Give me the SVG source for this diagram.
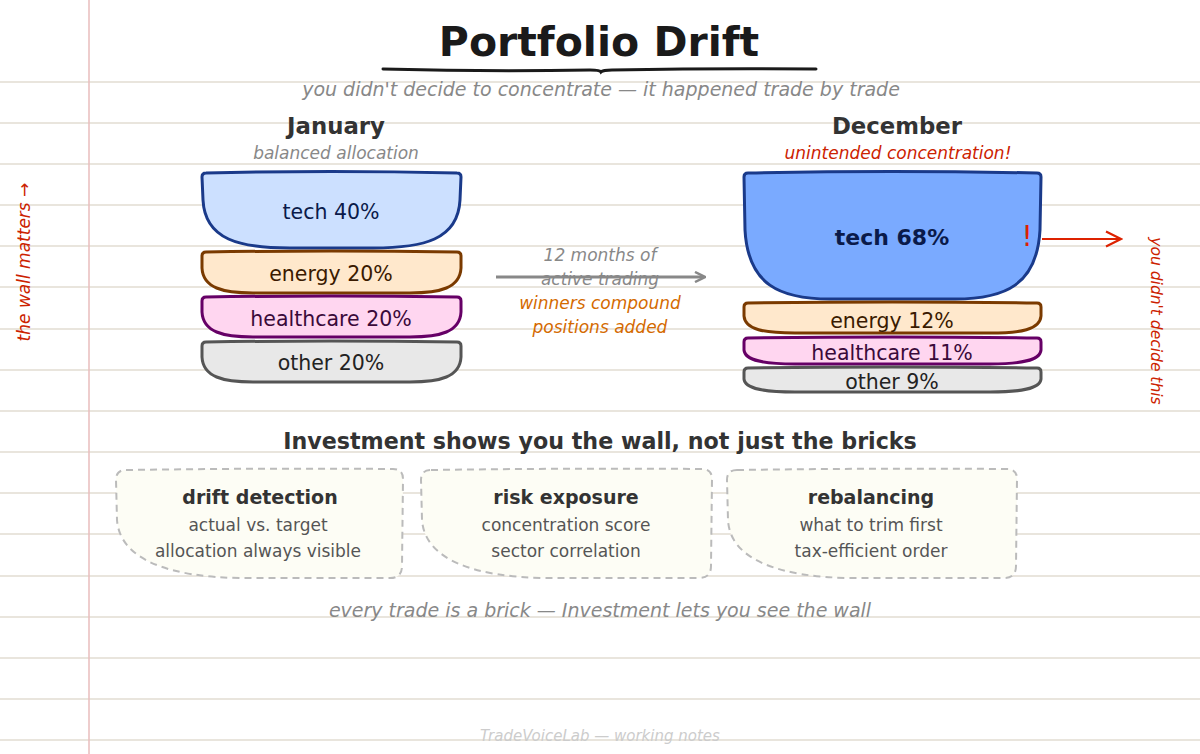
<svg xmlns="http://www.w3.org/2000/svg" width="1200" height="754" viewBox="0 0 1200 754" font-family="'DejaVu Sans', Verdana, sans-serif">
<defs>
<style>
text{font-family:'DejaVu Sans',Verdana,sans-serif}
.rule{stroke:#e2ddd2;stroke-width:1.5}
.it{font-style:italic}
.mid{text-anchor:middle}
.tech{fill:#cce0ff;stroke:#1a3a8a;stroke-width:3}
.tech2{fill:#7aaaff;stroke:#1a3a8a;stroke-width:3}
.energy{fill:#ffe8cc;stroke:#7a3a00;stroke-width:3}
.health{fill:#ffd6f0;stroke:#660066;stroke-width:3}
.other{fill:#e8e8e8;stroke:#555;stroke-width:3}
.bt{font-size:20.5px}
.card{fill:#fdfdf5;stroke:#bbb;stroke-width:2;stroke-dasharray:7 5}
.ct{font-size:19px;font-weight:bold;fill:#333}
.cs{font-size:17px;fill:#555}
.tr{font-size:17px;font-style:italic}
</style>
<marker id="ag" viewBox="0 0 12 12" refX="10" refY="6" markerWidth="12" markerHeight="12" markerUnits="userSpaceOnUse" orient="auto"><path d="M1,1 L11,6 L1,11" fill="none" stroke="#888" stroke-width="2.5"/></marker>
<marker id="ar" viewBox="0 0 12 12" refX="11" refY="6" markerWidth="18" markerHeight="18" markerUnits="userSpaceOnUse" orient="auto"><path d="M1,1 L11,6 L1,11" fill="none" stroke="#dd2200" stroke-width="1.4"/></marker>
</defs>
<rect width="1200" height="754" fill="#fff"/>
<g id="paper">
<line class="rule" x1="0" y1="82" x2="1200" y2="82"/>
<line class="rule" x1="0" y1="123" x2="1200" y2="123"/>
<line class="rule" x1="0" y1="164" x2="1200" y2="164"/>
<line class="rule" x1="0" y1="205" x2="1200" y2="205"/>
<line class="rule" x1="0" y1="246" x2="1200" y2="246"/>
<line class="rule" x1="0" y1="287" x2="1200" y2="287"/>
<line class="rule" x1="0" y1="329" x2="1200" y2="329"/>
<line class="rule" x1="0" y1="370" x2="1200" y2="370"/>
<line class="rule" x1="0" y1="411" x2="1200" y2="411"/>
<line class="rule" x1="0" y1="452" x2="1200" y2="452"/>
<line class="rule" x1="0" y1="493" x2="1200" y2="493"/>
<line class="rule" x1="0" y1="534" x2="1200" y2="534"/>
<line class="rule" x1="0" y1="576" x2="1200" y2="576"/>
<line class="rule" x1="0" y1="617" x2="1200" y2="617"/>
<line class="rule" x1="0" y1="658" x2="1200" y2="658"/>
<line class="rule" x1="0" y1="699" x2="1200" y2="699"/>
<line class="rule" x1="0" y1="740" x2="1200" y2="740"/>
<line x1="89" y1="0" x2="89" y2="754" stroke="#e8bcbc" stroke-width="1.5"/>
</g>
<g id="title">
<text x="599" y="56" class="mid" font-size="41" font-weight="bold" fill="#1a1a1a">Portfolio Drift</text>
<path d="M383,69 Q490,72 590,70 Q600,70 601,72 Q603,70 612,70 Q720,68 816,69" fill="none" stroke="#1a1a1a" stroke-width="3" stroke-linecap="round"/>
<text x="601" y="96" class="mid it" font-size="19" fill="#888">you didn't decide to concentrate — it happened trade by trade</text>
</g>
<g id="january">
<text x="336" y="134" class="mid" font-size="22.8" font-weight="bold" fill="#333">January</text>
<text x="336" y="159" class="mid it" font-size="17" fill="#888">balanced allocation</text>
</g>
<g id="december">
<text x="897" y="134" class="mid" font-size="22.8" font-weight="bold" fill="#333">December</text>
<text x="898" y="159" class="mid it" font-size="17" fill="#cc2200">unintended concentration!</text>
</g>
<g id="jan-tech">
<path class="tech" d="M206,173 Q331,170 457,173 Q461,173 461,177 L460,200 C458,240 423,248 373,248 L290,248 C240,248 205,240 203,200 L202,177 Q202,173 206,173 Z"/>
<text x="331" y="219" class="mid bt" fill="#0a1a4a">tech 40%</text>
</g>
<g id="jan-energy">
<path class="energy" d="M206,252 Q331,250 457,252 Q461,252 461,256 L461,268 C460,288 440,293 410,293 L253,293 C223,293 203,288 202,268 L202,256 Q202,252 206,252 Z"/>
<text x="331" y="281" class="mid bt" fill="#3a1a00">energy 20%</text>
</g>
<g id="jan-health">
<path class="health" d="M206,297 Q331,295 457,297 Q461,297 461,301 L461,312 C460,332 440,337 410,337 L253,337 C223,337 203,332 202,312 L202,301 Q202,297 206,297 Z"/>
<text x="331" y="326" class="mid bt" fill="#3a0a3a">healthcare 20%</text>
</g>
<g id="jan-other">
<path class="other" d="M206,342 Q331,340 457,342 Q461,342 461,346 L461,357 C460,377 440,382 410,382 L253,382 C223,382 203,377 202,357 L202,346 Q202,342 206,342 Z"/>
<text x="331" y="370" class="mid bt" fill="#222">other 20%</text>
</g>
<g id="dec-tech">
<path class="tech2" d="M748,173 Q892,170 1037,173 Q1041,173 1041,177 L1040,230 C1037,285 1005,299 955,299 L830,299 C780,299 748,285 745,230 L744,177 Q744,173 748,173 Z"/>
<text x="892" y="245" class="mid" font-size="22" font-weight="bold" fill="#0a1a4a">tech 68%</text>
<text x="1027" y="246" class="mid" font-size="28" fill="#dd2200">!</text>
</g>
<g id="dec-energy">
<path class="energy" d="M748,303 Q892,301 1037,303 Q1041,303 1041,307 L1041,316 C1040,330 1020,333 990,333 L795,333 C765,333 745,330 744,316 L744,307 Q744,303 748,303 Z"/>
<text x="892" y="328" class="mid bt" fill="#3a1a00">energy 12%</text>
</g>
<g id="dec-health">
<path class="health" d="M748,338 Q892,336 1037,338 Q1041,338 1041,342 L1041,350 C1040,361 1020,364 990,364 L795,364 C765,364 745,361 744,350 L744,342 Q744,338 748,338 Z"/>
<text x="892" y="360" class="mid bt" fill="#3a0a3a">healthcare 11%</text>
</g>
<g id="dec-other">
<path class="other" d="M748,368 Q892,366 1037,368 Q1041,368 1041,372 L1041,379 C1040,389 1020,392 990,392 L795,392 C765,392 745,389 744,379 L744,372 Q744,368 748,368 Z"/>
<text x="892" y="389" class="mid bt" fill="#222">other 9%</text>
</g>
<g id="connectors">
<line x1="496" y1="277" x2="704" y2="277" stroke="#888" stroke-width="3" marker-end="url(#ag)"/>
<line x1="1042" y1="239" x2="1121" y2="239" stroke="#dd2200" stroke-width="2" marker-end="url(#ar)"/>
</g>
<g id="transition-label">
<text x="600" y="261" class="mid tr" fill="#888">12 months of</text>
<text x="600" y="285" class="mid tr" fill="#888">active trading</text>
<text x="600" y="309" class="mid tr" fill="#d46a00">winners compound</text>
<text x="600" y="333" class="mid tr" fill="#d46a00">positions added</text>
</g>
<g id="side-notes">
<text transform="translate(30,262) rotate(-90)" class="mid it" font-size="17" fill="#cc2200">the wall matters →</text>
<text transform="translate(1151,321) rotate(90)" class="mid it" font-size="15.5" fill="#cc2200">you didn't decide this</text>
</g>
<g id="section">
<text x="600" y="449" class="mid" font-size="22.2" font-weight="bold" fill="#333">Investment shows you the wall, not just the bricks</text>
</g>
<g id="card-drift">
<path class="card" d="M126,470 Q260,468 393,469 Q403,469 403,479 L402,566 Q402,578 390,578 L240,578 C170,577 120,560 117,520 L116,480 Q116,470 126,470 Z"/>
<text x="260" y="504" class="mid ct">drift detection</text>
<text x="258" y="531" class="mid cs">actual vs. target</text>
<text x="258" y="557" class="mid cs">allocation always visible</text>
</g>
<g id="card-risk">
<path class="card" d="M431,470 Q566,468 702,469 Q712,469 712,479 L711,566 Q711,578 699,578 L545,578 C475,577 425,560 422,520 L421,480 Q421,470 431,470 Z"/>
<text x="566" y="504" class="mid ct">risk exposure</text>
<text x="566" y="531" class="mid cs">concentration score</text>
<text x="566" y="557" class="mid cs">sector correlation</text>
</g>
<g id="card-rebal">
<path class="card" d="M737,470 Q871,468 1007,469 Q1017,469 1017,479 L1016,566 Q1016,578 1004,578 L850,578 C780,577 730,560 728,520 L727,480 Q727,470 737,470 Z"/>
<text x="871" y="504" class="mid ct">rebalancing</text>
<text x="871" y="531" class="mid cs">what to trim first</text>
<text x="871" y="557" class="mid cs">tax-efficient order</text>
</g>
<g id="footer">
<text x="600" y="617" class="mid it" font-size="19" fill="#888">every trade is a brick — Investment lets you see the wall</text>
<text x="600" y="741" class="mid it" font-size="15" fill="#ccc">TradeVoiceLab — working notes</text>
</g>
</svg>
